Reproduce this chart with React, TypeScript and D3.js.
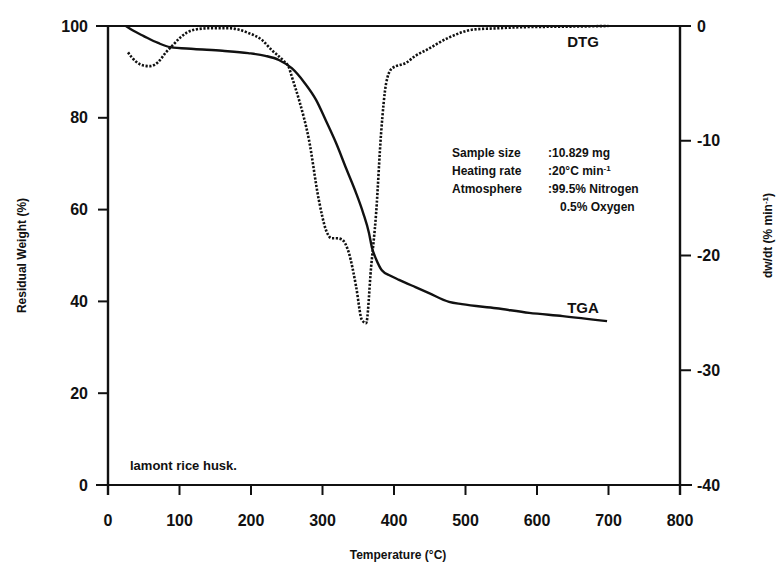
import React from "react";
import * as d3 from "d3";

// TGA: temperature (°C) vs residual weight (%)
const tgaTemp = [25, 35, 50, 70, 87, 120, 160, 196, 220, 239, 257, 275, 291, 305, 319, 333, 347, 357, 365, 369, 375, 383, 395, 407, 430, 449, 477, 495, 543, 589, 636, 698];
const tgaVal = [100, 99, 97.8, 96.3, 95.4, 95, 94.6, 94.1, 93.5, 92.6, 90.8, 87.6, 83.9, 79.3, 74.5, 69, 63.6, 59.2, 54.9, 51.8, 49.2, 46.8, 45.6, 44.7, 43.1, 41.8, 39.9, 39.4, 38.5, 37.5, 36.8, 35.7];

// DTG: temperature (°C) vs dw/dt (% min-1)
const dtgTemp = [28, 39, 50, 59, 70, 81, 91, 102, 119, 140, 170, 196, 215, 229, 245, 253, 257, 267, 281, 295, 305, 313, 320, 327, 337, 347, 355, 361, 368, 375, 382, 389, 397, 417, 430, 445, 477, 512, 545, 580, 650, 700];
const dtgVal = [-2.3, -3.1, -3.45, -3.5, -3.15, -2.3, -1.65, -0.95, -0.35, -0.2, -0.2, -0.6, -1.2, -2.1, -3.0, -3.6, -4.4, -6.4, -9.9, -15.2, -17.8, -18.5, -18.5, -18.6, -19.8, -22.7, -25.6, -25.9, -21.0, -16.3, -9.3, -5.0, -3.7, -3.2, -2.6, -2.1, -1.0, -0.3, -0.2, -0.1, -0.05, 0];

const xTicks = [0, 100, 200, 300, 400, 500, 600, 700, 800];
const yLeftTicks = [0, 20, 40, 60, 80, 100];
const yRightTicks = [0, -10, -20, -30, -40];

const annotLabels = ["Sample size", "Heating rate", "Atmosphere", ""];
const annotValues = [":10.829 mg", ":20°C min", ":99.5% Nitrogen", "0.5% Oxygen"];

const W = 782;
const H = 569;
const L = 108, R = 680, T = 26, B = 485;

export default function App() {
  const x = d3.scaleLinear().domain([0, 800]).range([L, R]);
  const yL = d3.scaleLinear().domain([0, 100]).range([B, T]);
  const yR = d3.scaleLinear().domain([-40, 0]).range([B, T]);

  const tgaLine = d3
    .line<number>()
    .x((_, i) => x(tgaTemp[i]))
    .y((d) => yL(d))
    .curve(d3.curveMonotoneX)(tgaVal) as string;

  const dtgLine = d3
    .line<number>()
    .x((_, i) => x(dtgTemp[i]))
    .y((d) => yR(d))
    .curve(d3.curveMonotoneX)(dtgVal) as string;

  const font = "'Liberation Sans', Arial, Helvetica, sans-serif";

  return (
    <svg width={W} height={H} style={{ position: "absolute", left: 0, top: 0, background: "#fff" }} fontFamily={font} fontWeight="bold">
      <rect width={W} height={H} fill="#fff" />
      {/* frame */}
      <line x1={L - 12} y1={T} x2={R} y2={T} stroke="#111" strokeWidth={2.2} />
      <line x1={L} y1={T} x2={L} y2={B + 10} stroke="#111" strokeWidth={2.4} />
      <line x1={R} y1={T} x2={R} y2={B + 10} stroke="#111" strokeWidth={2.4} />
      <line x1={L - 12} y1={B} x2={R + 12} y2={B} stroke="#111" strokeWidth={2.2} />

      {/* left ticks */}
      {yLeftTicks.map((t) => (
        <g key={"l" + t}>
          <line x1={L - 10} x2={L} y1={yL(t)} y2={yL(t)} stroke="#111" strokeWidth={2} />
          <text x={L - 20} y={yL(t)} dy="0.35em" textAnchor="end" fontSize={16} fill="#111">{t}</text>
        </g>
      ))}
      {/* right ticks */}
      {yRightTicks.map((t) => (
        <g key={"r" + t}>
          <line x1={R} x2={R + 11} y1={yR(t)} y2={yR(t)} stroke="#111" strokeWidth={2} />
          <text x={R + 17} y={yR(t)} dy="0.35em" textAnchor="start" fontSize={16} fill="#111">{t}</text>
        </g>
      ))}
      {/* bottom ticks */}
      {xTicks.map((t) => (
        <g key={"x" + t}>
          <line x1={x(t)} x2={x(t)} y1={B} y2={B + 10} stroke="#111" strokeWidth={2} />
          <text x={x(t)} y={B + 41} textAnchor="middle" fontSize={16} fill="#111">{t}</text>
        </g>
      ))}

      {/* axis titles */}
      <text transform={`translate(26, ${(T + B) / 2}) rotate(-90)`} textAnchor="middle" fontSize={12} fill="#111">Residual Weight (%)</text>
      <text transform={`translate(772, ${(T + B) / 2 - 20}) rotate(-90)`} textAnchor="middle" fontSize={12} fill="#111">
        dw/dt (% min<tspan baselineShift="super" fontSize={8}>-1</tspan>)
      </text>
      <text x={x(400) + 4} y={559} textAnchor="middle" fontSize={12} fill="#111">Temperature (°C)</text>

      {/* curves */}
      <path d={tgaLine} fill="none" stroke="#111" strokeWidth={2.4} strokeLinejoin="round" />
      <path d={dtgLine} fill="none" stroke="#111" strokeWidth={2.6} strokeDasharray="2.2,1.6" strokeLinecap="butt" />

      {/* labels */}
      <text x={583} y={313} textAnchor="middle" fontSize={15} fill="#111">TGA</text>
      <text x={583} y={47} textAnchor="middle" fontSize={15} fill="#111">DTG</text>
      <text x={130} y={470} fontSize={13} fill="#111">lamont rice husk.</text>

      {/* annotation */}
      {annotLabels.map((lab, i) => (
        <g key={"a" + i}>
          <text x={452} y={157 + i * 18} fontSize={12} fill="#111">{lab}</text>
          <text x={i === 3 ? 560 : 548} y={157 + i * 18} fontSize={12} fill="#111">
            {annotValues[i]}
            {i === 1 ? <tspan baselineShift="super" fontSize={8}>-1</tspan> : null}
          </text>
        </g>
      ))}
    </svg>
  );
}
